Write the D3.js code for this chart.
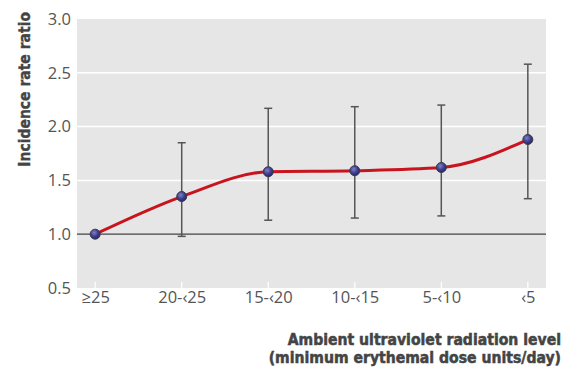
<!DOCTYPE html>
<html><head><meta charset="utf-8">
<script src="https://cdn.jsdelivr.net/npm/d3@7"></script>
<style>body{margin:0;background:#fff}svg{display:block}</style>
</head><body>
<svg id="c" width="574" height="367"></svg>
<script>
const categories = ["≥25", "20-‹25", "15-‹20", "10-‹15", "5-‹10", "‹5"];
const irr   = [1.00, 1.35, 1.58, 1.59, 1.62, 1.88];
const lower = [null, 0.98, 1.13, 1.15, 1.17, 1.33];
const upper = [null, 1.85, 2.17, 2.185, 2.20, 2.58];
const yTicks = [0.5, 1.0, 1.5, 2.0, 2.5, 3.0];

const svg = d3.select("#c");
const L = 77, R = 546, T = 19, B = 288;
const x = d3.scalePoint().domain(categories).range([L, R]).padding(0.21);
const y = d3.scaleLinear().domain([0.5, 3.0]).range([B, T]);

const defs = svg.append("defs");
const g = defs.append("radialGradient").attr("id", "dot").attr("cx", "40%").attr("cy", "35%").attr("r", "65%");
g.append("stop").attr("offset", "0%").attr("stop-color", "#8080c8");
g.append("stop").attr("offset", "60%").attr("stop-color", "#3c3c8c");
g.append("stop").attr("offset", "100%").attr("stop-color", "#262668");

svg.append("rect").attr("x", L).attr("y", T).attr("width", R - L).attr("height", B - T).attr("fill", "#e6e6e6");

// gridlines
svg.append("g").selectAll("line").data(yTicks.filter(v => v > 1 && v < 3)).join("line")
  .attr("x1", L).attr("x2", R).attr("y1", d => y(d)).attr("y2", d => y(d))
  .attr("stroke", "#fff").attr("stroke-width", 1.5);
// baseline at 1.0
svg.append("line").attr("x1", L).attr("x2", R).attr("y1", y(1)).attr("y2", y(1))
  .attr("stroke", "#444").attr("stroke-width", 1.2);

// bottom ticks (white)
svg.append("g").selectAll("line").data(categories).join("line")
  .attr("x1", d => x(d)).attr("x2", d => x(d)).attr("y1", B - 6).attr("y2", B)
  .attr("stroke", "#fff").attr("stroke-width", 1.2);

// y tick labels
const yAxis = d3.axisLeft(y).tickValues(yTicks).tickFormat(d3.format(".1f")).tickSize(0).tickPadding(6);
const ya = svg.append("g").attr("transform", `translate(${L},0)`).call(yAxis);
ya.select(".domain").remove();
ya.selectAll("text").attr("font-family", "'Open Sans', sans-serif").attr("font-size", 16.5).attr("fill", "#555");

// x tick labels
const xAxis = d3.axisBottom(x).tickSize(0).tickPadding(3);
const xa = svg.append("g").attr("transform", `translate(0,${B})`).call(xAxis);
xa.select(".domain").remove();
xa.selectAll("text").attr("font-family", "'Open Sans', sans-serif").attr("font-size", 16.5).attr("fill", "#555");

// error bars
const eb = svg.append("g").selectAll("g").data(categories.map((c, i) => ({c, lo: lower[i], hi: upper[i]})).filter(d => d.lo != null)).join("g")
  .attr("stroke", "#555").attr("stroke-width", 1.5);
eb.append("line").attr("x1", d => x(d.c)).attr("x2", d => x(d.c)).attr("y1", d => y(d.lo)).attr("y2", d => y(d.hi));
eb.append("line").attr("x1", d => x(d.c) - 4).attr("x2", d => x(d.c) + 4).attr("y1", d => y(d.lo)).attr("y2", d => y(d.lo));
eb.append("line").attr("x1", d => x(d.c) - 4).attr("x2", d => x(d.c) + 4).attr("y1", d => y(d.hi)).attr("y2", d => y(d.hi));

// curve
const pts = categories.map((c, i) => [x(c), y(irr[i])]);
svg.append("path").attr("d", d3.line().curve(d3.curveMonotoneX)(pts))
  .attr("fill", "none").attr("stroke", "#c8141e").attr("stroke-width", 3);

// points
svg.append("g").selectAll("circle").data(pts).join("circle")
  .attr("cx", d => d[0]).attr("cy", d => d[1]).attr("r", 5)
  .attr("fill", "url(#dot)").attr("stroke", "#3a3a4a").attr("stroke-width", 1);

// axis titles
const tf = "'Liberation Sans Narrow', 'DejaVu Sans Condensed', sans-serif";
svg.append("text").attr("transform", "translate(30,12) rotate(-90)").attr("text-anchor", "end")
  .attr("font-family", tf).attr("font-weight", "bold").attr("font-size", 15.5).attr("fill", "#444")
  .attr("stroke", "#444").attr("stroke-width", 0.4)
  .text("Incidence rate ratio");
const xt = svg.append("text").attr("text-anchor", "end")
  .attr("font-family", tf).attr("font-weight", "bold").attr("font-size", 15.6).attr("fill", "#444")
  .attr("stroke", "#444").attr("stroke-width", 0.5);
xt.append("tspan").attr("x", 561).attr("y", 345).text("Ambient ultraviolet radiation level");
xt.append("tspan").attr("x", 561).attr("y", 363).text("(minimum erythemal dose units/day)");
</script>
</body></html>
